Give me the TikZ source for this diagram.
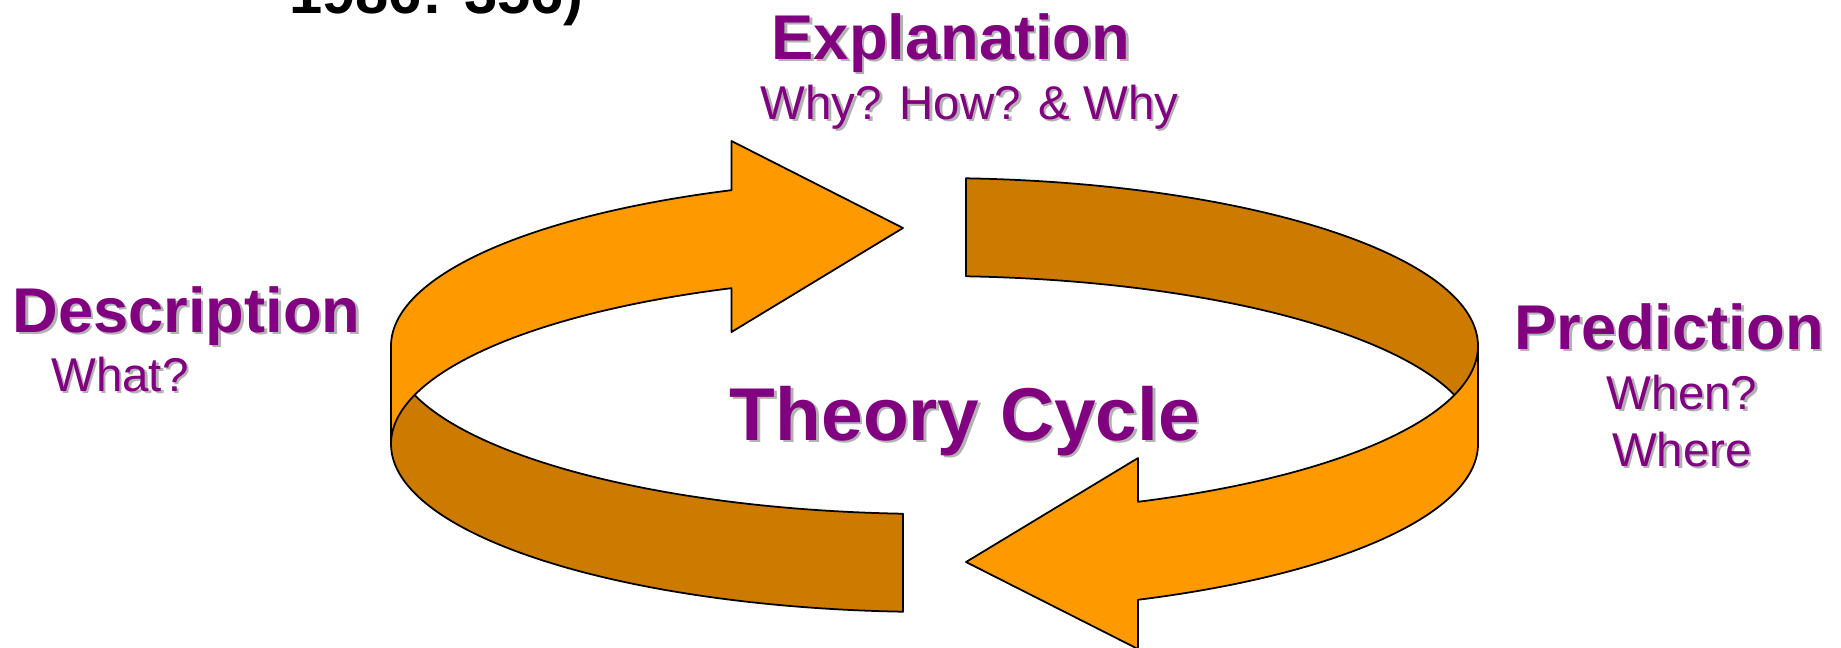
\documentclass[tikz,border=0pt]{standalone}
\usepackage{fontspec}
\setmainfont{Liberation Sans}
\usepackage{tikz}
\usetikzlibrary{calc}

\definecolor{ribbonlight}{RGB}{255,153,0}
\definecolor{ribbondark}{RGB}{204,122,0}
\definecolor{cyclepurple}{RGB}{128,0,128}
\definecolor{cycleshadow}{RGB}{178,178,178}

% name, position, size style, text
\newcommand{\shadowed}[4]{%
  \node[captext, #3, text=cycleshadow] at ([shift={(2.5,2.5)}]#2) {#4};
  \node[captext, #3] (#1) at (#2) {#4};}

\begin{document}
\begin{tikzpicture}[x=0.02cm, y=-0.02cm,
    captext/.style={anchor=base, inner sep=0pt, text=cyclepurple},
    headsize/.style={font=\fontsize{36}{40}\selectfont\bfseries},
    subsize/.style={font=\fontsize{27}{30}\selectfont},
    titlesize/.style={font=\fontsize{42.6}{46}\selectfont\bfseries},
    ring/.style={x radius=543.5, y radius=168},
    ribbon/.style={draw=black, line width=1pt, line join=round}]
    \useasboundingbox (0,0) rectangle (1841,647);
    \clip (0,0) rectangle (1841,647);

    \node[anchor=base west, inner sep=0pt, font=\fontsize{34}{40}\selectfont\bfseries] (source) at (289,13) {1986: 356)};

    \coordinate (ctop) at (934.5,346);
    \coordinate (cbot) at (934.5,444);

    \coordinate (lhtop) at (731.5,141);
    \coordinate (lhtip) at (903,228);
    \coordinate (lhbot) at (731.5,332);
    \coordinate (rhtop) at (1138,458);
    \coordinate (rhtip) at (966,562);
    \coordinate (rhbot) at (1138,649);

    \draw[ribbon, fill=ribbondark] ($(ctop)+(180:543.5 and 168)$) arc[ring, start angle=180, end angle=93.32]
        -- ($(cbot)+(93.32:543.5 and 168)$) arc[ring, start angle=93.32, end angle=180] -- cycle;
    \draw[ribbon, fill=ribbondark] ($(ctop)+(273.32:543.5 and 168)$) arc[ring, start angle=273.32, end angle=360]
        -- ($(cbot)+(0:543.5 and 168)$) arc[ring, start angle=360, end angle=273.32] -- cycle;

    \draw[ribbon, fill=ribbonlight] ($(ctop)+(248.07:543.5 and 168)$) arc[ring, start angle=248.07, end angle=180]
        -- ($(cbot)+(180:543.5 and 168)$) arc[ring, start angle=180, end angle=248.07]
        -- (lhbot) -- (lhtip) -- (lhtop) -- cycle;
    \draw[ribbon, fill=ribbonlight] ($(ctop)+(0:543.5 and 168)$) arc[ring, start angle=0, end angle=68.01]
        -- (rhtop) -- (rhtip) -- (rhbot)
        -- ($(cbot)+(68.01:543.5 and 168)$) arc[ring, start angle=68.01, end angle=0] -- cycle;

    \shadowed{expl}{951,59}{headsize}{Explanation}
    \shadowed{explq}{969.5,119}{subsize}{Why? How? \& Why}
    \shadowed{desc}{186.5,332}{headsize}{Description}
    \shadowed{descq}{120,391}{subsize}{What?}
    \shadowed{pred}{1669,349}{headsize}{Prediction}
    \shadowed{predq}{1682,409}{subsize}{When?}
    \shadowed{predw}{1682,466}{subsize}{Where}
    \shadowed{title}{965,440}{titlesize}{Theory Cycle}
\end{tikzpicture}
\end{document}
